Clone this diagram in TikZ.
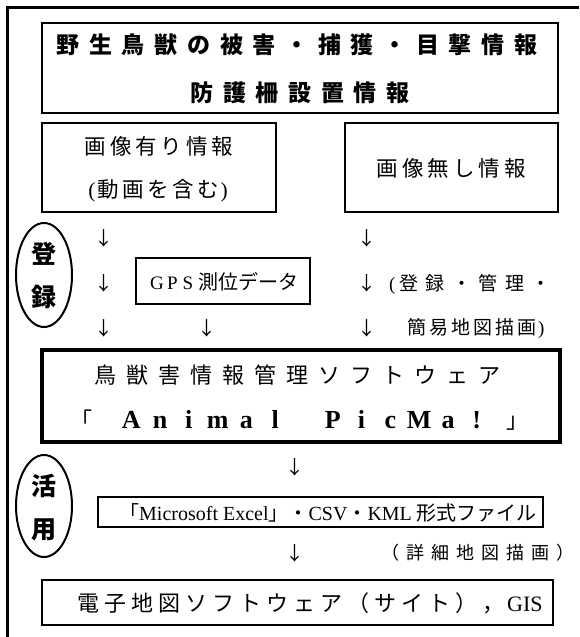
\documentclass[tikz,border=0pt]{standalone}
\usepackage{fontspec}
\setmainfont{Liberation Serif}
\newfontfamily\jp{Noto Sans CJK JP}
\usetikzlibrary{shapes.geometric}
\makeatletter
\def\spc#1#2{\def\spc@w{#1}\spc@loop#2\relax}
\def\spc@loop#1{\ifx#1\relax\else\makebox[\spc@w][c]{#1}\expandafter\spc@loop\fi}
\makeatother
\newcommand\fsz[1]{\fontsize{#1}{#1}\selectfont}
\tikzset{
  boxn/.style={draw, line width=2pt, inner sep=0pt},
  mainbox/.style={draw, line width=4pt, inner sep=0pt},
  oval/.style={draw, ellipse, line width=2pt, inner sep=0pt, minimum width=56pt},
  txt/.style={inner sep=0pt},
  arr/.style={inner sep=0pt, font=\jp\fsz{19pt}},
  ovaltxt/.style={inner sep=0pt, font=\jp\bfseries\fsz{25pt}},
}
\begin{document}
\begin{tikzpicture}[x=1pt,y=-1pt]
\useasboundingbox (0,0) rectangle (579,637);
\fill[white] (0,0) rectangle (579,637);
\draw[line width=3pt] (7,637) -- (7,7) -- (579,7);

% top box
\node[boxn, minimum width=516pt, minimum height=90pt] (topbox) at (300,68) {};
\node[txt] (title1) at (297,45) {\jp\bfseries\fsz{23pt}\spc{32.7pt}{野生鳥獣の被害・捕獲・目撃情報}};
\node[txt] (title2) at (300,93) {\jp\bfseries\fsz{23pt}\spc{32.7pt}{防護柵設置情報}};

% image boxes
\node[boxn, minimum width=234pt, minimum height=89pt] (imgbox) at (159,167.5) {};
\node[txt] (img1) at (159,146) {\jp\fsz{21.5pt}\spc{25.5pt}{画像有り情報}};
\node[txt] (img2) at (158,191) {\fsz{21.5pt}(\jp\spc{25pt}{動画を含む}\rmfamily)};
\node[boxn, minimum width=213pt, minimum height=89pt] (noimgbox) at (451.5,167.5) {};
\node[txt] (noimg) at (451,168) {\jp\fsz{21.5pt}\spc{25.5pt}{画像無し情報}};

% registration oval
\node[oval, minimum height=104pt] (reg) at (44,275) {};
\node[ovaltxt] (reg1) at (44,254) {登};
\node[ovaltxt] (reg2) at (44,297) {録};

% arrows column
\node[arr] (la1) at (104,238) {↓};
\node[arr] (la2) at (104,283) {↓};
\node[arr] (la3) at (104,328) {↓};
\node[arr] (ma3) at (207,328) {↓};
\node[arr] (ra1) at (367,238) {↓};
\node[arr] (ra2) at (367,283) {↓};
\node[arr] (ra3) at (367,328) {↓};

% GPS
\node[boxn, minimum width=174pt, minimum height=46pt] (gps) at (223,281) {};
\node[txt] (gpstxt) at (224,282) {\fsz{19pt}\spc{15.5pt}{GPS}\hspace{3pt}{\jp\fsz{20pt}測位データ}};

% registration note
\node[txt, anchor=west] (note1) at (389,284) {\fsz{19pt}(\jp\spc{26.5pt}{登録・管理・}};
\node[txt, anchor=west] (note2) at (406,328) {\fsz{19pt}{\jp\spc{22pt}{簡易地図描画}})};

% main box
\node[mainbox, minimum width=518pt, minimum height=92pt] (mainb) at (301,396) {};
\node[txt] (main1) at (297.5,375) {\jp\fsz{22pt}\spc{32pt}{鳥獣害情報管理ソフトウェア}};
\node[txt, anchor=west] (main2) at (70,420) {\fsz{26pt}{\jp\fsz{22pt}「}\hspace{24.6pt}{\bfseries\spc{28.8pt}{Animal~PicMa!}}\hspace{15.6pt}{\jp\fsz{22pt}」}};

% usage oval
\node[oval, minimum height=102pt] (use) at (44,506) {};
\node[ovaltxt] (use1) at (44,486) {活};
\node[ovaltxt] (use2) at (44,530) {用};

\node[arr] (ba1) at (295,467) {↓};

% export box
\node[boxn, minimum width=445pt, minimum height=30pt] (excel) at (320.5,512) {};
\node[txt, anchor=west] (exceltxt) at (119,513) {\fsz{20pt}{\jp 「}Microsoft Excel{\jp 」・}CSV{\jp ・}KML {\jp 形式ファイル}};

\node[arr] (ba2) at (295,553) {↓};
\node[txt, anchor=west] (note3) at (378,553) {\jp\fsz{18pt}\spc{25pt}{（詳細地図描画）}};

% bottom box
\node[boxn, minimum width=511pt, minimum height=45pt] (gis) at (297.5,602.5) {};
\node[txt, anchor=west] (gistxt) at (75,603) {\fsz{22pt}{\jp\spc{27pt}{電子地図ソフトウェア（サイト），}}GIS};
\end{tikzpicture}
\end{document}
